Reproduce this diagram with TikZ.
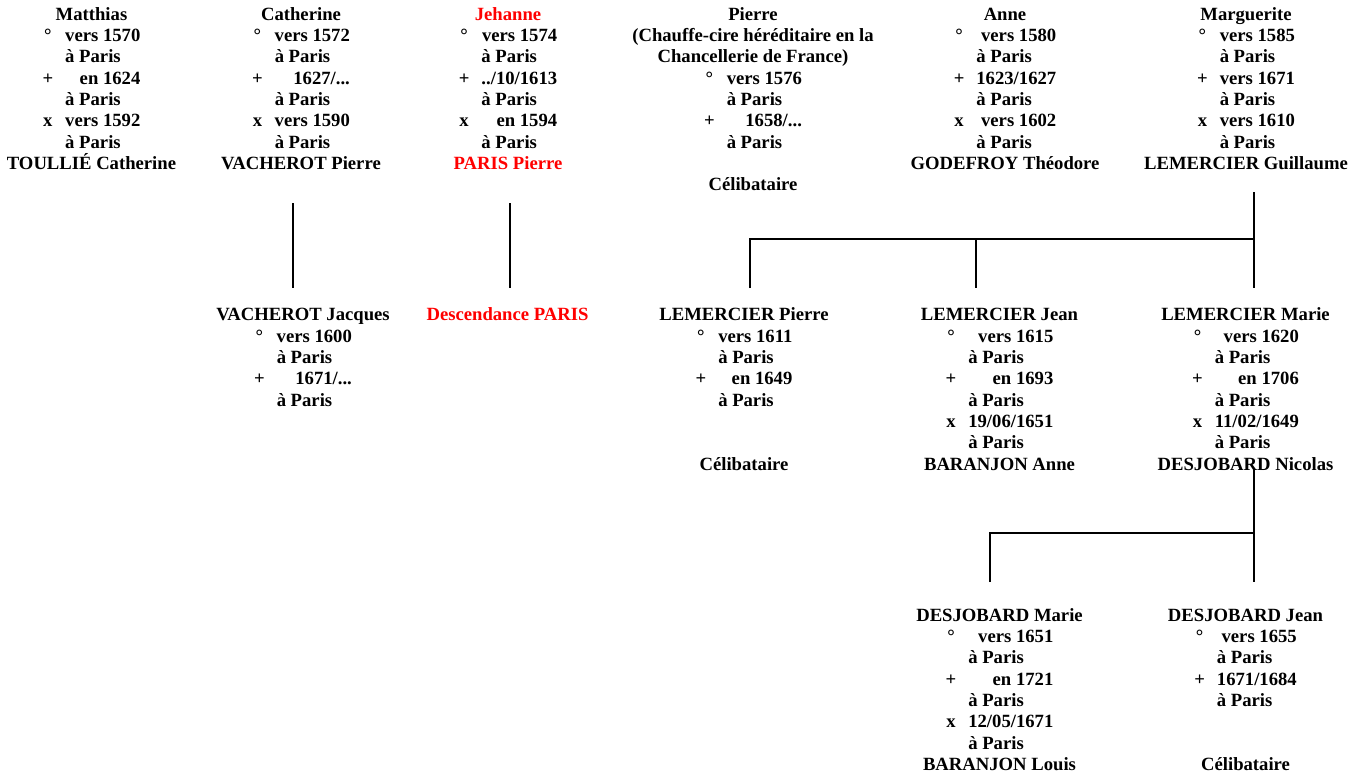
\documentclass[tikz,border=0pt]{standalone}
\usepackage{fontspec}
\setmainfont{Liberation Serif}
\newlength\datew
\newlength\symw \setlength\symw{8pt}
\newlength\gapw \setlength\gapw{9pt}
\newcommand\pfont{\fontsize{14}{16}\selectfont\bfseries}
\newcommand\ev[2]{{\settowidth{\datew}{\widestdate}\makebox[\symw][c]{#1}\hspace{\gapw}\makebox[\datew][r]{#2}}}
\newcommand\pl{{\settowidth{\datew}{\widestdate}\makebox[\symw]{}\hspace{\gapw}\makebox[\datew][l]{à Paris}}}
\newcommand\dw[1]{\gdef\widestdate{#1}}
\tikzset{
  person/.style={anchor=north, align=center, inner sep=0pt, font=\pfont, text=black},
  link/.style={draw=black, line width=1.4pt}
}
\begin{document}
\begin{tikzpicture}[x=0.75pt, y=-0.75pt]
\useasboundingbox (0,0) rectangle (1362,778);

% ---- top row
\dw{vers 1570}
\node[person] (matthias) at (91.5,5) {\strut Matthias\\ \ev{°}{vers 1570}\\ \pl\\ \ev{+}{en 1624}\\ \pl\\ \ev{x}{vers 1592}\\ \pl\\ TOULLIÉ Catherine};
\dw{vers 1572}
\node[person] (catherine) at (301,5) {\strut Catherine\\ \ev{°}{vers 1572}\\ \pl\\ \ev{+}{1627/...}\\ \pl\\ \ev{x}{vers 1590}\\ \pl\\ VACHEROT Pierre};
\dw{../10/1613}
\node[person] (jehanne) at (508,5) {\strut \textcolor{red}{Jehanne}\\ \ev{°}{vers 1574}\\ \pl\\ \ev{+}{../10/1613}\\ \pl\\ \ev{x}{en 1594}\\ \pl\\ \textcolor{red}{PARIS Pierre}};
\dw{vers 1576}
\node[person] (pierre) at (753,5) {\strut Pierre\\ (Chauffe-cire héréditaire en la\\ Chancellerie de France)\\ \ev{°}{vers 1576}\\ \pl\\ \ev{+}{1658/...}\\ \pl\\ \strut\\ Célibataire};
\dw{1623/1627}
\node[person] (anne) at (1005,5) {\strut Anne\\ \ev{°}{vers 1580}\\ \pl\\ \ev{+}{1623/1627}\\ \pl\\ \ev{x}{vers 1602}\\ \pl\\ GODEFROY Théodore};
\dw{vers 1585}
\node[person] (marguerite) at (1246,5) {\strut Marguerite\\ \ev{°}{vers 1585}\\ \pl\\ \ev{+}{vers 1671}\\ \pl\\ \ev{x}{vers 1610}\\ \pl\\ LEMERCIER Guillaume};

% ---- second row
\dw{vers 1600}
\node[person] (jacques) at (303,305.6) {\strut VACHEROT Jacques\\ \ev{°}{vers 1600}\\ \pl\\ \ev{+}{1671/...}\\ \pl};
\node[person] (descparis) at (507.5,305.6) {\strut \textcolor{red}{Descendance PARIS}};
\dw{vers 1611}
\node[person] (lpierre) at (744,305.6) {\strut LEMERCIER Pierre\\ \ev{°}{vers 1611}\\ \pl\\ \ev{+}{en 1649}\\ \pl\\ \strut\\ \strut\\ Célibataire};
\dw{19/06/1651}
\node[person] (ljean) at (999.5,305.6) {\strut LEMERCIER Jean\\ \ev{°}{vers 1615}\\ \pl\\ \ev{+}{en 1693}\\ \pl\\ \ev{x}{19/06/1651}\\ \pl\\ BARANJON Anne};
\dw{11/02/1649}
\node[person] (lmarie) at (1245.5,305.6) {\strut LEMERCIER Marie\\ \ev{°}{vers 1620}\\ \pl\\ \ev{+}{en 1706}\\ \pl\\ \ev{x}{11/02/1649}\\ \pl\\ DESJOBARD Nicolas};

% ---- third row
\dw{12/05/1671}
\node[person] (dmarie) at (999.5,606) {\strut DESJOBARD Marie\\ \ev{°}{vers 1651}\\ \pl\\ \ev{+}{en 1721}\\ \pl\\ \ev{x}{12/05/1671}\\ \pl\\ BARANJON Louis};
\dw{1671/1684}
\node[person] (djean) at (1245.5,606) {\strut DESJOBARD Jean\\ \ev{°}{vers 1655}\\ \pl\\ \ev{+}{1671/1684}\\ \pl\\ \strut\\ \strut\\ Célibataire};

% ---- connector end points
\coordinate (catTop) at (293,203);
\coordinate (catBot) at (293,288);
\coordinate (jehTop) at (510,203);
\coordinate (jehBot) at (510,288);
\coordinate (margTop) at (1254,192);
\coordinate (margBar) at (1254,239);
\coordinate (margBot) at (1254,288);
\coordinate (barL) at (750,239);
\coordinate (barM) at (976,239);
\coordinate (lpBot) at (750,288);
\coordinate (ljBot) at (976,288);
\coordinate (lmTop) at (1254,470);
\coordinate (lmBar) at (1254,533);
\coordinate (lmBot) at (1254,582);
\coordinate (bar2L) at (990,533);
\coordinate (dmBot) at (990,582);

\draw[link] (catTop) -- (catBot);
\draw[link] (jehTop) -- (jehBot);
\draw[link] (margTop) -- (margBot);
\draw[link] (lpBot) -- (barL) -- (margBar);
\draw[link] (barM) -- (ljBot);
\draw[link] (lmTop) -- (lmBot);
\draw[link] (dmBot) -- (bar2L) -- (lmBar);
\end{tikzpicture}
\end{document}
